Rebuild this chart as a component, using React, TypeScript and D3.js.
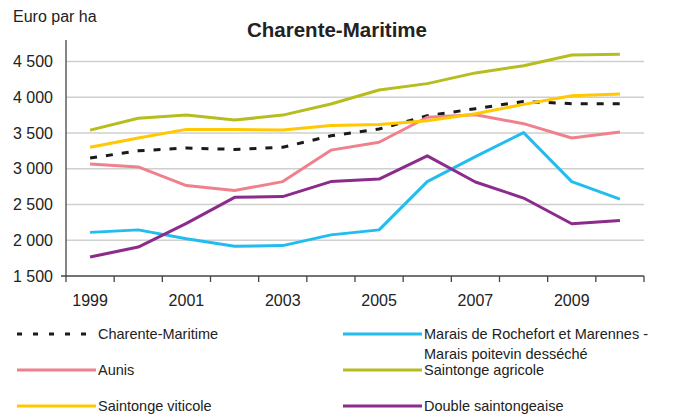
import React from "react";
import * as d3 from "d3";

const years = [1999, 2000, 2001, 2002, 2003, 2004, 2005, 2006, 2007, 2008, 2009, 2010];
const yTicks = [1500, 2000, 2500, 3000, 3500, 4000, 4500];
const xLabelYears = [1999, 2001, 2003, 2005, 2007, 2009];

const charenteMaritime = [3150, 3250, 3290, 3270, 3300, 3460, 3555, 3740, 3840, 3940, 3910, 3910];
const marais = [2110, 2145, 2020, 1915, 1925, 2075, 2145, 2820, 3170, 3505, 2820, 2575];
const aunis = [3065, 3025, 2765, 2695, 2820, 3260, 3370, 3720, 3755, 3630, 3430, 3515];
const saintongeAgricole = [3540, 3705, 3750, 3680, 3750, 3905, 4100, 4190, 4340, 4440, 4590, 4600];
const saintongeViticole = [3300, 3430, 3550, 3550, 3540, 3605, 3620, 3670, 3770, 3900, 4020, 4045];
const doubleSaintongeaise = [1765, 1905, 2235, 2600, 2610, 2820, 2855, 3180, 2815, 2590, 2230, 2275];

const seriesNames = [
  "Charente-Maritime",
  "Marais de Rochefort et Marennes - Marais poitevin desséché",
  "Aunis",
  "Saintonge agricole",
  "Saintonge viticole",
  "Double saintongeaise",
];
const seriesValues = [charenteMaritime, marais, aunis, saintongeAgricole, saintongeViticole, doubleSaintongeaise];
const seriesColors = ["#1a1a1a", "#22BDEE", "#F0808C", "#B5BE1E", "#FFC800", "#8B2B8C"];
const seriesDash = ["7 9", null, null, null, null, null];

export default function App() {
  const W = 673, H = 416;
  const x = d3.scaleBand<number>().domain(years).range([66, 644]).padding(0);
  const y = d3.scaleLinear().domain([1500, 4800]).range([276, 40]);
  const cx = (yr: number) => (x(yr) as number) + x.bandwidth() / 2;
  const line = d3.line<number>().x((_, i) => cx(years[i])).y((v) => y(v));
  const font = "'Liberation Sans', Arial, sans-serif";

  const legendItems = [
    { i: 0, lx: 17, ly: 334, lines: ["Charente-Maritime"] },
    { i: 1, lx: 343, ly: 334, lines: ["Marais de Rochefort et Marennes -", "Marais poitevin desséché"] },
    { i: 2, lx: 17, ly: 370, lines: ["Aunis"] },
    { i: 3, lx: 343, ly: 370, lines: ["Saintonge agricole"] },
    { i: 4, lx: 17, ly: 406, lines: ["Saintonge viticole"] },
    { i: 5, lx: 343, ly: 406, lines: ["Double saintongeaise"] },
  ];

  const boundaries = years.map((yr) => x(yr) as number).concat([644]);

  return (
    <svg width={W} height={H} style={{ position: "absolute", left: 0, top: 0, background: "#fff" }} fontFamily={font}>
      <rect width={W} height={H} fill="#fff" />
      <text x={13} y={22} fontSize={16} fill="#222">Euro par ha</text>
      <text x={337} y={37} fontSize={20.5} fontWeight="bold" textAnchor="middle" fill="#222">Charente-Maritime</text>

      {yTicks.filter((t) => t > 1500).map((t) => (
        <line key={t} x1={66} x2={644} y1={y(t)} y2={y(t)} stroke="#cfcfcf" strokeWidth={1.5} />
      ))}
      {yTicks.map((t) => (
        <text key={t} x={53} y={y(t)} dy="0.36em" textAnchor="end" fontSize={16} fill="#222">
          {d3.format(",")(t).replace(",", " ")}
        </text>
      ))}

      <line x1={66} x2={66} y1={40} y2={276} stroke="#444" strokeWidth={1.3} />
      <line x1={61} x2={644} y1={276} y2={276} stroke="#444" strokeWidth={1.3} />
      {boundaries.map((b, k) => (
        <line key={k} x1={b} x2={b} y1={276} y2={282} stroke="#444" strokeWidth={1.3} />
      ))}
      {xLabelYears.map((yr) => (
        <text key={yr} x={cx(yr)} y={306} textAnchor="middle" fontSize={16} fill="#222">{yr}</text>
      ))}

      {seriesValues.map((vals, i) => (
        <path key={i} d={line(vals) || ""} fill="none" stroke={seriesColors[i]} strokeWidth={3}
          strokeDasharray={seriesDash[i] || undefined} strokeLinejoin="round" />
      ))}

      {legendItems.map((it) => (
        <g key={it.i}>
          <line x1={it.lx} x2={it.lx + 79} y1={it.ly} y2={it.ly} stroke={seriesColors[it.i]} strokeWidth={3}
            strokeDasharray={seriesDash[it.i] ? "5 11" : undefined} />
          {it.lines.map((l, k) => (
            <text key={k} x={it.lx + 81} y={it.ly + k * 19.3} dy="0.36em" fontSize={14.5} fill="#222">{l}</text>
          ))}
        </g>
      ))}
    </svg>
  );
}
